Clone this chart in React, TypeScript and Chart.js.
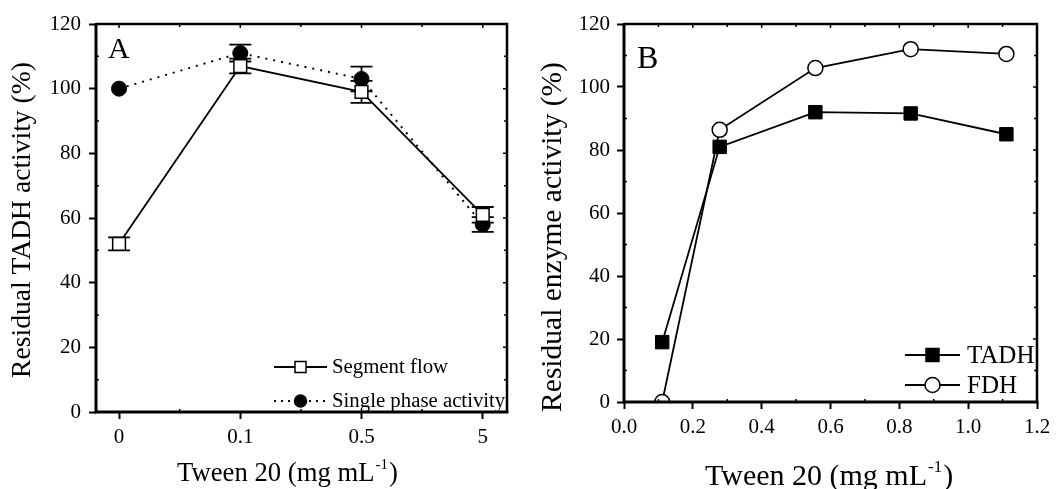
import React, { useEffect, useRef } from 'react';
import { Chart, registerables } from 'chart.js';
Chart.register(...registerables);

const FONT = '"Liberation Serif", "Times New Roman", serif';

// ---------- Panel A data ----------
const tweenA = ['0', '0.1', '0.5', '5'];
const segmentFlow = [52, 107, 99, 61];
const segmentFlowErr = [2, 2.3, 3.4, 2.4];
const singlePhase = [100, 111, 103, 58];
const singlePhaseErr = [0, 2.6, 3.8, 2.3];
const yTicksA = [0, 20, 40, 60, 80, 100, 120];

// ---------- Panel B data ----------
const tweenB = [0.111, 0.278, 0.556, 0.833, 1.111];
const tadh = [19, 81, 92, 91.6, 85];
const fdh = [0, 86.4, 106, 112, 110.5];
const xTicksB = [0, 0.2, 0.4, 0.6, 0.8, 1.0, 1.2];
const yTicksB = [0, 20, 40, 60, 80, 100, 120];

type LegendItem = { label: string; marker: 'rect' | 'circle'; fill: string; dash: number[]; size: number };

type PanelOpts = {
  letter: string;
  letterX: number;
  letterY: number;
  letterSize: number;
  errors: (number[] | null)[];
  xMinor: number[];
  yMinor: number[];
  xMajor: number[];
  yMajor: number[];
  legend: LegendItem[];
  legendX0: number;
  legendX1: number;
  legendTextX: number;
  legendY: number;
  legendGap: number;
  legendFont: number;
  xTitleX: number;
  xTitleY: number;
  xTitleSize: number;
  yTitle: string;
  yTitleX: number;
  yTitleY: number;
  yTitleSize: number;
};

function drawMarker(ctx: CanvasRenderingContext2D, kind: 'rect' | 'circle', x: number, y: number, size: number, fill: string) {
  ctx.save();
  ctx.fillStyle = fill;
  ctx.strokeStyle = '#000';
  ctx.lineWidth = 1.5;
  ctx.beginPath();
  if (kind === 'rect') ctx.rect(x - size / 2, y - size / 2, size, size);
  else ctx.arc(x, y, size / 2, 0, Math.PI * 2);
  ctx.fill();
  ctx.stroke();
  ctx.restore();
}

function makePlugin(o: PanelOpts) {
  return {
    id: 'panelExtras',
    beforeDraw(chart: any) {
      const ctx = chart.ctx;
      ctx.save();
      ctx.fillStyle = '#fff';
      ctx.fillRect(0, 0, chart.width, chart.height);
      ctx.restore();
    },
    beforeDatasetsDraw(chart: any) {
      const ctx = chart.ctx;
      const xs = chart.scales.x;
      const ys = chart.scales.y;
      ctx.save();
      ctx.strokeStyle = '#000';
      ctx.lineWidth = 1.8;
      chart.data.datasets.forEach((ds: any, di: number) => {
        const errs = o.errors[di];
        if (!errs) return;
        ds.data.forEach((p: any, i: number) => {
          const e = errs[i];
          if (!e) return;
          const x = xs.getPixelForValue(p.x);
          const yt = ys.getPixelForValue(p.y + e);
          const yb = ys.getPixelForValue(p.y - e);
          ctx.beginPath();
          ctx.moveTo(x, yt);
          ctx.lineTo(x, yb);
          ctx.moveTo(x - 11, yt);
          ctx.lineTo(x + 11, yt);
          ctx.moveTo(x - 11, yb);
          ctx.lineTo(x + 11, yb);
          ctx.stroke();
        });
      });
      ctx.restore();
    },
    afterDraw(chart: any) {
      const ctx = chart.ctx;
      const a = chart.chartArea;
      const xs = chart.scales.x;
      const ys = chart.scales.y;
      ctx.save();
      ctx.strokeStyle = '#000';
      // inward ticks
      ctx.lineWidth = 1.5;
      ctx.beginPath();
      o.xMajor.forEach((v) => {
        const x = xs.getPixelForValue(v);
        ctx.moveTo(x, a.top);
        ctx.lineTo(x, a.top + 4);
      });
      o.xMinor.forEach((v) => {
        const x = xs.getPixelForValue(v);
        ctx.moveTo(x, a.top);
        ctx.lineTo(x, a.top + 3);
        ctx.moveTo(x, a.bottom);
        ctx.lineTo(x, a.bottom - 3);
      });
      o.yMajor.forEach((v) => {
        const y = ys.getPixelForValue(v);
        ctx.moveTo(a.right, y);
        ctx.lineTo(a.right - 4, y);
      });
      o.yMinor.forEach((v) => {
        const y = ys.getPixelForValue(v);
        ctx.moveTo(a.right, y);
        ctx.lineTo(a.right - 3, y);
        ctx.moveTo(a.left, y);
        ctx.lineTo(a.left + 3, y);
      });
      ctx.stroke();
      // frame
      ctx.lineWidth = 3;
      ctx.beginPath();
      ctx.moveTo(a.left, a.top - 1);
      ctx.lineTo(a.left, a.bottom + 1.5);
      ctx.moveTo(a.left - 1.5, a.bottom);
      ctx.lineTo(a.right + 1.5, a.bottom);
      ctx.stroke();
      ctx.lineWidth = 2.5;
      ctx.beginPath();
      ctx.moveTo(a.left, a.top);
      ctx.lineTo(a.right + 1.25, a.top);
      ctx.moveTo(a.right, a.top);
      ctx.lineTo(a.right, a.bottom);
      ctx.stroke();

      ctx.fillStyle = '#000';
      // panel letter
      ctx.font = `${o.letterSize}px ${FONT}`;
      ctx.textAlign = 'left';
      ctx.textBaseline = 'alphabetic';
      ctx.fillText(o.letter, o.letterX, o.letterY);

      // legend
      o.legend.forEach((it, i) => {
        const y = o.legendY + i * o.legendGap;
        ctx.save();
        ctx.lineWidth = 1.8;
        ctx.setLineDash(it.dash);
        ctx.beginPath();
        ctx.moveTo(o.legendX0, y);
        ctx.lineTo(o.legendX1, y);
        ctx.stroke();
        ctx.restore();
        drawMarker(ctx, it.marker, (o.legendX0 + o.legendX1) / 2, y, it.size, it.fill);
        ctx.font = `${o.legendFont}px ${FONT}`;
        ctx.textBaseline = 'middle';
        ctx.textAlign = 'left';
        ctx.fillStyle = '#000';
        ctx.fillText(it.label, o.legendTextX, y + 1);
      });

      // x title with superscript
      ctx.textBaseline = 'alphabetic';
      ctx.textAlign = 'left';
      const main = 'Tween 20 (mg mL';
      ctx.font = `${o.xTitleSize}px ${FONT}`;
      let x = o.xTitleX;
      ctx.fillText(main, x, o.xTitleY);
      x += ctx.measureText(main).width;
      const supSize = Math.round(o.xTitleSize * 0.55);
      ctx.font = `${supSize}px ${FONT}`;
      ctx.fillText('-1', x + 1, o.xTitleY - o.xTitleSize * 0.45);
      x += ctx.measureText('-1').width + 2;
      ctx.font = `${o.xTitleSize}px ${FONT}`;
      ctx.fillText(')', x, o.xTitleY);

      // y title
      ctx.save();
      ctx.translate(o.yTitleX, o.yTitleY);
      ctx.rotate(-Math.PI / 2);
      ctx.font = `${o.yTitleSize}px ${FONT}`;
      ctx.textAlign = 'center';
      ctx.textBaseline = 'middle';
      ctx.fillText(o.yTitle, 0, 0);
      ctx.restore();

      ctx.restore();
    },
  };
}

function axisCommon(tickFont: number, pad: number) {
  return {
    border: { display: false },
    grid: {
      display: true,
      drawOnChartArea: false,
      drawTicks: true,
      tickLength: 7,
      tickWidth: 2,
      color: '#000',
    },
    ticks: {
      color: '#000',
      font: { family: FONT, size: tickFont },
      padding: pad,
      maxRotation: 0,
      autoSkip: false,
    },
  };
}

function buildA(canvas: HTMLCanvasElement) {
  const pts = (arr: number[]) => arr.map((v, i) => ({ x: i, y: v }));
  const plugin = makePlugin({
    letter: 'A',
    letterX: 108,
    letterY: 58,
    letterSize: 30,
    errors: [segmentFlowErr, singlePhaseErr],
    xMajor: tweenA.map((_, i) => i),
    xMinor: tweenA.slice(1).map((_, i) => i + 0.5),
    yMajor: yTicksA,
    yMinor: yTicksA.slice(1).map((v) => v - 10),
    legend: [
      { label: 'Segment flow', marker: 'rect', fill: '#fff', dash: [], size: 11 },
      { label: 'Single phase activity', marker: 'circle', fill: '#000', dash: [2, 5], size: 12 },
    ],
    legendX0: 274,
    legendX1: 327,
    legendTextX: 332,
    legendY: 367,
    legendGap: 34,
    legendFont: 20.8,
    xTitleX: 177,
    xTitleY: 481,
    xTitleSize: 26.7,
    yTitle: 'Residual TADH activity (%)',
    yTitleX: 23,
    yTitleY: 220,
    yTitleSize: 27.6,
  });
  return new Chart(canvas, {
    type: 'line',
    data: {
      datasets: [
        {
          label: 'Segment flow',
          data: pts(segmentFlow),
          borderColor: '#000',
          borderWidth: 1.8,
          pointStyle: 'rect',
          pointRadius: 9,
          pointBorderWidth: 1.5,
          pointBackgroundColor: '#fff',
          pointBorderColor: '#000',
          fill: false,
          tension: 0,
        },
        {
          label: 'Single phase activity',
          data: pts(singlePhase),
          borderColor: '#000',
          borderWidth: 2,
          borderDash: [2, 6],
          pointStyle: 'circle',
          pointRadius: 7.5,
          pointBorderWidth: 1,
          pointBackgroundColor: '#000',
          pointBorderColor: '#000',
          fill: false,
          tension: 0,
        },
      ],
    },
    options: {
      animation: false,
      responsive: false,
      devicePixelRatio: 1,
      layout: { padding: { top: 24, right: 23, bottom: 0, left: 0 } },
      plugins: { legend: { display: false }, tooltip: { enabled: false } },
      scales: {
        x: {
          type: 'linear',
          min: -0.19,
          max: 3.2,
          ...axisCommon(21, 6),
          afterBuildTicks: (s: any) => {
            s.ticks = tweenA.map((_, i) => ({ value: i }));
          },
          ticks: {
            ...axisCommon(21, 6).ticks,
            callback: (v: any) => tweenA[Math.round(Number(v))] ?? '',
          },
          afterFit: (s: any) => {
            s.height = 77;
          },
        },
        y: {
          type: 'linear',
          min: 0,
          max: 120,
          ...axisCommon(21, 8),
          afterBuildTicks: (s: any) => {
            s.ticks = yTicksA.map((v) => ({ value: v }));
          },
          afterFit: (s: any) => {
            s.width = 96;
          },
        },
      },
    } as any,
    plugins: [plugin as any],
  });
}

function buildB(canvas: HTMLCanvasElement) {
  const pts = (arr: number[]) => arr.map((v, i) => ({ x: tweenB[i], y: v }));
  const plugin = makePlugin({
    letter: 'B',
    letterX: 107,
    letterY: 68,
    letterSize: 32,
    errors: [null, null],
    xMajor: xTicksB,
    xMinor: xTicksB.slice(1).map((v) => v - 0.1),
    yMajor: yTicksB,
    yMinor: yTicksB.slice(1).map((v) => v - 10),
    legend: [
      { label: 'TADH', marker: 'rect', fill: '#000', dash: [], size: 13 },
      { label: 'FDH', marker: 'circle', fill: '#fff', dash: [], size: 15 },
    ],
    legendX0: 375,
    legendX1: 430,
    legendTextX: 437,
    legendY: 355,
    legendGap: 30,
    legendFont: 25,
    xTitleX: 175,
    xTitleY: 485,
    xTitleSize: 30,
    yTitle: 'Residual enzyme activity (%)',
    yTitleX: 23,
    yTitleY: 237,
    yTitleSize: 29.5,
  });
  return new Chart(canvas, {
    type: 'line',
    data: {
      datasets: [
        {
          label: 'TADH',
          data: pts(tadh),
          borderColor: '#000',
          borderWidth: 1.8,
          pointStyle: 'rect',
          pointRadius: 9.5,
          pointBorderWidth: 1,
          pointBackgroundColor: '#000',
          pointBorderColor: '#000',
          fill: false,
          tension: 0,
          clip: 0,
        },
        {
          label: 'FDH',
          data: pts(fdh),
          borderColor: '#000',
          borderWidth: 1.8,
          pointStyle: 'circle',
          pointRadius: 7.5,
          pointBorderWidth: 1.5,
          pointBackgroundColor: '#fff',
          pointBorderColor: '#000',
          fill: false,
          tension: 0,
          clip: 0,
        },
      ],
    },
    options: {
      animation: false,
      responsive: false,
      devicePixelRatio: 1,
      layout: { padding: { top: 24, right: 20, bottom: 0, left: 0 } },
      plugins: { legend: { display: false }, tooltip: { enabled: false } },
      scales: {
        x: {
          type: 'linear',
          min: 0,
          max: 1.2,
          ...axisCommon(21, 6),
          afterBuildTicks: (s: any) => {
            s.ticks = xTicksB.map((v) => ({ value: v }));
          },
          ticks: {
            ...axisCommon(21, 6).ticks,
            callback: (v: any) => Number(v).toFixed(1),
          },
          afterFit: (s: any) => {
            s.height = 87;
          },
        },
        y: {
          type: 'linear',
          min: 0,
          max: 120,
          ...axisCommon(21, 7),
          afterBuildTicks: (s: any) => {
            s.ticks = yTicksB.map((v) => ({ value: v }));
          },
          afterFit: (s: any) => {
            s.width = 94;
          },
        },
      },
    } as any,
    plugins: [plugin as any],
  });
}

export default function App() {
  const refA = useRef<HTMLCanvasElement>(null);
  const refB = useRef<HTMLCanvasElement>(null);
  useEffect(() => {
    const a = buildA(refA.current!);
    const b = buildB(refB.current!);
    return () => {
      a.destroy();
      b.destroy();
    };
  }, []);
  return (
    <div style={{ position: 'fixed', left: 0, top: 0, width: 1057, height: 489, background: '#fff' }}>
      <canvas ref={refA} width={530} height={489} style={{ position: 'absolute', left: 0, top: 0, width: 530, height: 489 }} />
      <canvas ref={refB} width={527} height={489} style={{ position: 'absolute', left: 530, top: 0, width: 527, height: 489 }} />
    </div>
  );
}
